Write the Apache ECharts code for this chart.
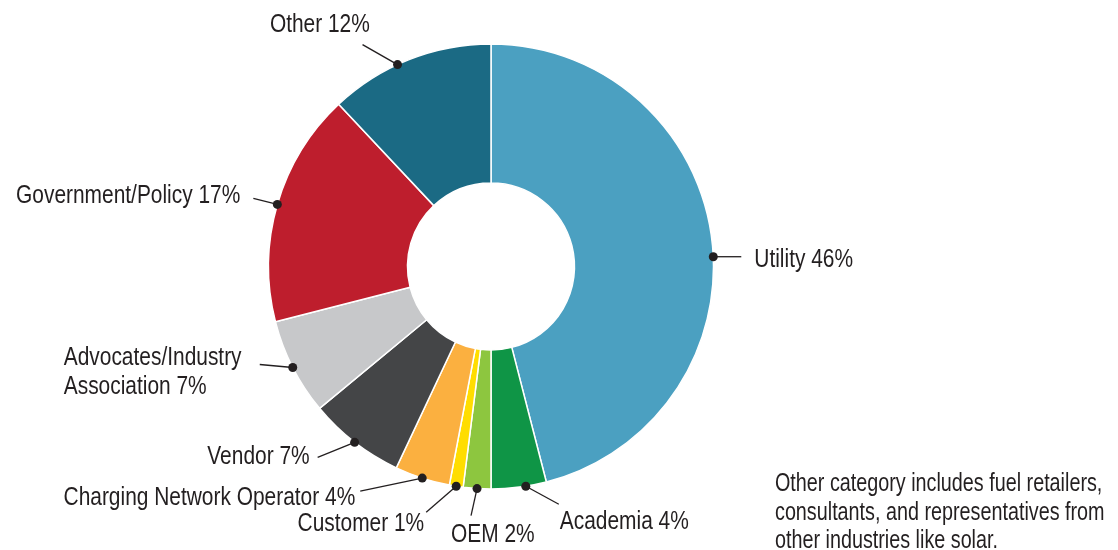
<!DOCTYPE html>
<html>
<head>
<meta charset="utf-8">
<script src="https://cdn.jsdelivr.net/npm/echarts@6/dist/echarts.min.js"></script>
<style>
  html, body { margin: 0; padding: 0; background: #fff; }
  #chart { width: 1118px; height: 550px; }
</style>
</head>
<body>
<div id="chart"></div>
<script>
// ---- data ----
const categories = ['Utility', 'Academia', 'OEM', 'Customer', 'Charging Network Operator',
  'Vendor', 'Advocates/Industry Association', 'Government/Policy', 'Other'];
const shares = [46, 4, 2, 1, 4, 7, 7, 17, 12];
const sliceColors = ['#4ba0c1', '#0f9546', '#8dc63f', '#ffdd00', '#fbb040',
  '#444547', '#c7c8ca', '#be1e2d', '#1b6a84'];
const footnote = 'Other category includes fuel retailers,\nconsultants, and representatives from\nother industries like solar.';

// ---- layout (label callouts, relative to anchor dot) ----
const FONT = "'Liberation Sans', Arial, sans-serif";
const FONT_SIZE = 25.5;
const NARROW = 0.82;   // horizontal condensing of text
const NOTE_NARROW = 0.775;
const TEXT_COLOR = '#231f20';
const CENTER = [491, 266.5];
const R_IN = 83.5, R_OUT = 222.5;
const callouts = [
  { nudge: 1.3,  ex: 28,  ey: 0,   tx: 13,   ty: 3.3,  align: 'left' },   // Utility
  { nudge: -0.5, ex: 33,  ey: 18,  tx: 1,    ty: 18,   align: 'left' },   // Academia
  { nudge: 0,    ex: -6,  ey: 27,  tx: -20,  ty: 19.5, align: 'left' },   // OEM
  { nudge: 0,    ex: -30, ey: 26,  tx: -2,   ty: 12,   align: 'right' },  // Customer
  { nudge: 0,    ex: -62, ey: 13,  tx: -5,   ty: 6.5,  align: 'right' },  // CNO
  { nudge: 0,    ex: -37, ey: 15,  tx: -8,   ty: 0,    align: 'right' },  // Vendor
  { nudge: 0,    ex: -33, ey: -3,  tx: -196, ty: 8.4,  align: 'left', wrap: true }, // Advocates
  { nudge: 0,    ex: -24, ey: -6,  tx: -13,  ty: -2.7, align: 'right' },  // Government
  { nudge: -0.9, ex: -35, ey: -20, tx: 7.3,  ty: -19.4, align: 'right' }  // Other
];

const total = shares.reduce((a, b) => a + b, 0);
let cum = 0;
const anchorData = shares.map((v, i) => {
  const mid = (cum + v / 2) / total * 100 + callouts[i].nudge;
  cum += v;
  return [1, mid];
});

const chart = echarts.init(document.getElementById('chart'), null, { renderer: 'canvas' });
chart.setOption({
  animation: false,
  backgroundColor: '#fff',
  polar: { center: CENTER, radius: R_OUT },
  angleAxis: { type: 'value', min: 0, max: 100, startAngle: 90, clockwise: true, show: false },
  radiusAxis: { type: 'value', min: 0, max: 1, show: false },
  graphic: [{
    type: 'text',
    x: 775,
    y: 470,
    scaleX: NOTE_NARROW,
    style: {
      text: footnote,
      x: 0, y: 0,
      align: 'left', verticalAlign: 'top',
      font: FONT_SIZE + 'px ' + FONT,
      fill: TEXT_COLOR,
      lineHeight: 28.5
    }
  }],
  series: [
    {
      type: 'pie',
      center: CENTER,
      radius: [R_IN, R_OUT],
      startAngle: 90,
      clockwise: true,
      avoidLabelOverlap: false,
      label: { show: false },
      labelLine: { show: false },
      emphasis: { disabled: true },
      itemStyle: { borderColor: '#ffffff', borderWidth: 1.5 },
      data: categories.map((c, i) => ({ name: c, value: shares[i], itemStyle: { color: sliceColors[i] } }))
    },
    {
      type: 'custom',
      coordinateSystem: 'polar',
      z: 10,
      silent: true,
      clip: false,
      data: anchorData,
      renderItem: function (params, api) {
        const i = params.dataIndex;
        const p = api.coord([api.value(0), api.value(1)]);
        const c = callouts[i];
        const end = [p[0] + c.ex, p[1] + c.ey];
        let name = categories[i];
        if (c.wrap) name = name.replace('Industry ', 'Industry\n');
        const label = name + ' ' + shares[i] + '%';
        return {
          type: 'group',
          children: [
            { type: 'line', shape: { x1: p[0], y1: p[1], x2: end[0], y2: end[1] },
              style: { stroke: TEXT_COLOR, lineWidth: 1.3 } },
            { type: 'circle', shape: { cx: p[0], cy: p[1], r: 4.5 }, style: { fill: TEXT_COLOR } },
            { type: 'text', x: end[0] + c.tx, y: end[1] + c.ty, scaleX: NARROW,
              style: {
                text: label, x: 0, y: 0,
                align: c.align, verticalAlign: 'middle',
                font: FONT_SIZE + 'px ' + FONT, fill: TEXT_COLOR, lineHeight: 29 } }
          ]
        };
      }
    }
  ]
});
</script>
</body>
</html>
